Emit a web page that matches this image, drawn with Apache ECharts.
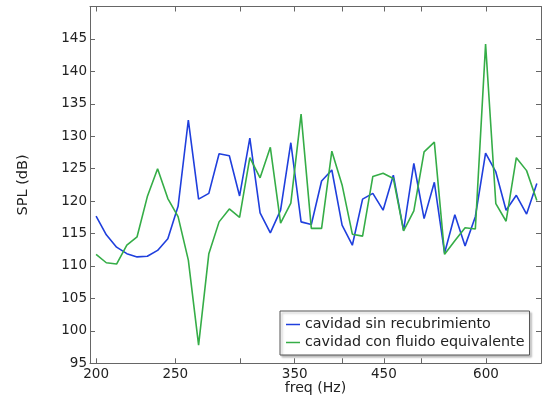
<!DOCTYPE html>
<html><head><meta charset="utf-8">
<script src="https://cdn.jsdelivr.net/npm/echarts@6/dist/echarts.min.js"></script>
<style>html,body{margin:0;padding:0;background:#fff}#c{width:545px;height:398px}</style>
</head><body><div id="c"></div>
<script>
const freqs = [200.00, 205.85, 211.89, 218.10, 224.49, 231.07, 237.84, 244.81, 251.98, 259.37,
  266.97, 274.79, 282.84, 291.13, 299.66, 308.44, 317.48, 326.78, 336.36, 346.21,
  356.36, 366.80, 377.55, 388.61, 400.00, 411.72, 423.78, 436.20, 448.98, 462.14,
  475.68, 489.62, 503.97, 518.74, 533.94, 549.58, 565.69, 582.26, 599.32, 616.88,
  634.96, 653.56, 672.72, 692.43];
const sinRecubrimiento = [117.7, 114.8, 112.9, 111.9, 111.4, 111.5, 112.4, 114.2, 119.2, 132.5,
  120.3, 121.2, 127.3, 127.0, 120.8, 129.7, 118.2, 115.1, 118.6, 129.0,
  116.8, 116.4, 123.1, 124.8, 116.3, 113.2, 120.3, 121.2, 118.6, 124.0,
  115.5, 125.8, 117.3, 122.9, 112.0, 117.9, 113.1, 117.6, 127.4, 124.5,
  118.6, 120.9, 118.0, 122.7];
const fluidoEquivalente = [111.8, 110.5, 110.3, 113.2, 114.5, 120.7, 125.0, 120.4, 117.6, 110.9,
  97.8, 111.9, 116.8, 118.8, 117.5, 126.7, 123.6, 128.3, 116.6, 119.7,
  133.4, 115.8, 115.8, 127.7, 122.5, 114.9, 114.6, 123.8, 124.3, 123.5,
  115.4, 118.5, 127.6, 129.1, 111.8, 113.9, 115.9, 115.7, 144.2, 119.6,
  116.9, 126.7, 124.7, 120.1];
const seriesNames = ['cavidad sin recubrimiento', 'cavidad con fluido equivalente'];
const xTickValues = [200, 250, 300, 350, 400, 450, 500, 600];
const xLabelValues = [200, 250, 350, 450, 600];

const FONT = 'DejaVu Sans';
const AXIS_COLOR = '#666';
const TEXT_COLOR = '#222';
const X_MIN = 196.6, X_MAX = 700.6, Y_MIN = 95, Y_MAX = 150;

const chart = echarts.init(document.getElementById('c'), null, {renderer: 'canvas'});
const tickStyle = {show: true, inside: true, length: 5, lineStyle: {color: AXIS_COLOR, width: 1}};
const lineStyleAxis = {show: true, onZero: false, lineStyle: {color: AXIS_COLOR, width: 1}};

chart.setOption({
  animation: false,
  backgroundColor: '#fff',
  grid: {left: 90, right: 4, top: 6.5, bottom: 34.7, containLabel: false, outerBoundsMode: 'none'},
  legend: {
    orient: 'vertical', left: 280, top: 311,
    data: seriesNames,
    icon: 'rect', itemWidth: 14, itemHeight: 1.5, itemGap: 3,
    padding: [6, 5, 5, 6],
    borderColor: '#555', borderWidth: 1, backgroundColor: '#fff',
    shadowColor: 'rgba(0,0,0,0.25)', shadowBlur: 2, shadowOffsetX: 2, shadowOffsetY: 2,
    textStyle: {fontFamily: FONT, fontSize: 14.3, color: TEXT_COLOR, lineHeight: 15}
  },
  xAxis: [{
    type: 'log', position: 'bottom', min: X_MIN, max: X_MAX,
    name: 'freq (Hz)', nameLocation: 'middle', nameGap: 18, nameMoveOverlap: false,
    nameTextStyle: {fontFamily: FONT, fontSize: 14.1, color: TEXT_COLOR},
    axisLine: lineStyleAxis,
    axisTick: Object.assign({customValues: xTickValues}, tickStyle),
    axisLabel: {customValues: xLabelValues, fontFamily: FONT, fontSize: 13.5, color: TEXT_COLOR, margin: 4},
    splitLine: {show: false}, minorTick: {show: false}
  }, {
    type: 'log', position: 'top', min: X_MIN, max: X_MAX,
    axisLine: lineStyleAxis,
    axisTick: Object.assign({customValues: xTickValues}, tickStyle),
    axisLabel: {show: false},
    splitLine: {show: false}
  }],
  yAxis: [{
    type: 'value', position: 'left', min: Y_MIN, max: Y_MAX, interval: 5,
    name: 'SPL (dB)', nameLocation: 'middle', nameGap: 59, nameMoveOverlap: false,
    nameTextStyle: {fontFamily: FONT, fontSize: 14.5, color: TEXT_COLOR},
    axisLine: lineStyleAxis, axisTick: tickStyle,
    axisLabel: {fontFamily: FONT, fontSize: 13.5, color: TEXT_COLOR, margin: 3, showMaxLabel: false},
    splitLine: {show: false}
  }, {
    type: 'value', position: 'right', min: Y_MIN, max: Y_MAX, interval: 5,
    axisLine: lineStyleAxis, axisTick: tickStyle,
    axisLabel: {show: false}, splitLine: {show: false}
  }],
  series: [{
    name: seriesNames[0], type: 'line', showSymbol: false, symbol: 'none',
    data: freqs.map((f, i) => [f, sinRecubrimiento[i]]),
    lineStyle: {color: '#1f3fdd', width: 1.6}, itemStyle: {color: '#1f3fdd'}
  }, {
    name: seriesNames[1], type: 'line', showSymbol: false, symbol: 'none',
    data: freqs.map((f, i) => [f, fluidoEquivalente[i]]),
    lineStyle: {color: '#35ad47', width: 1.6}, itemStyle: {color: '#35ad47'}
  }]
});
</script>
</body></html>
